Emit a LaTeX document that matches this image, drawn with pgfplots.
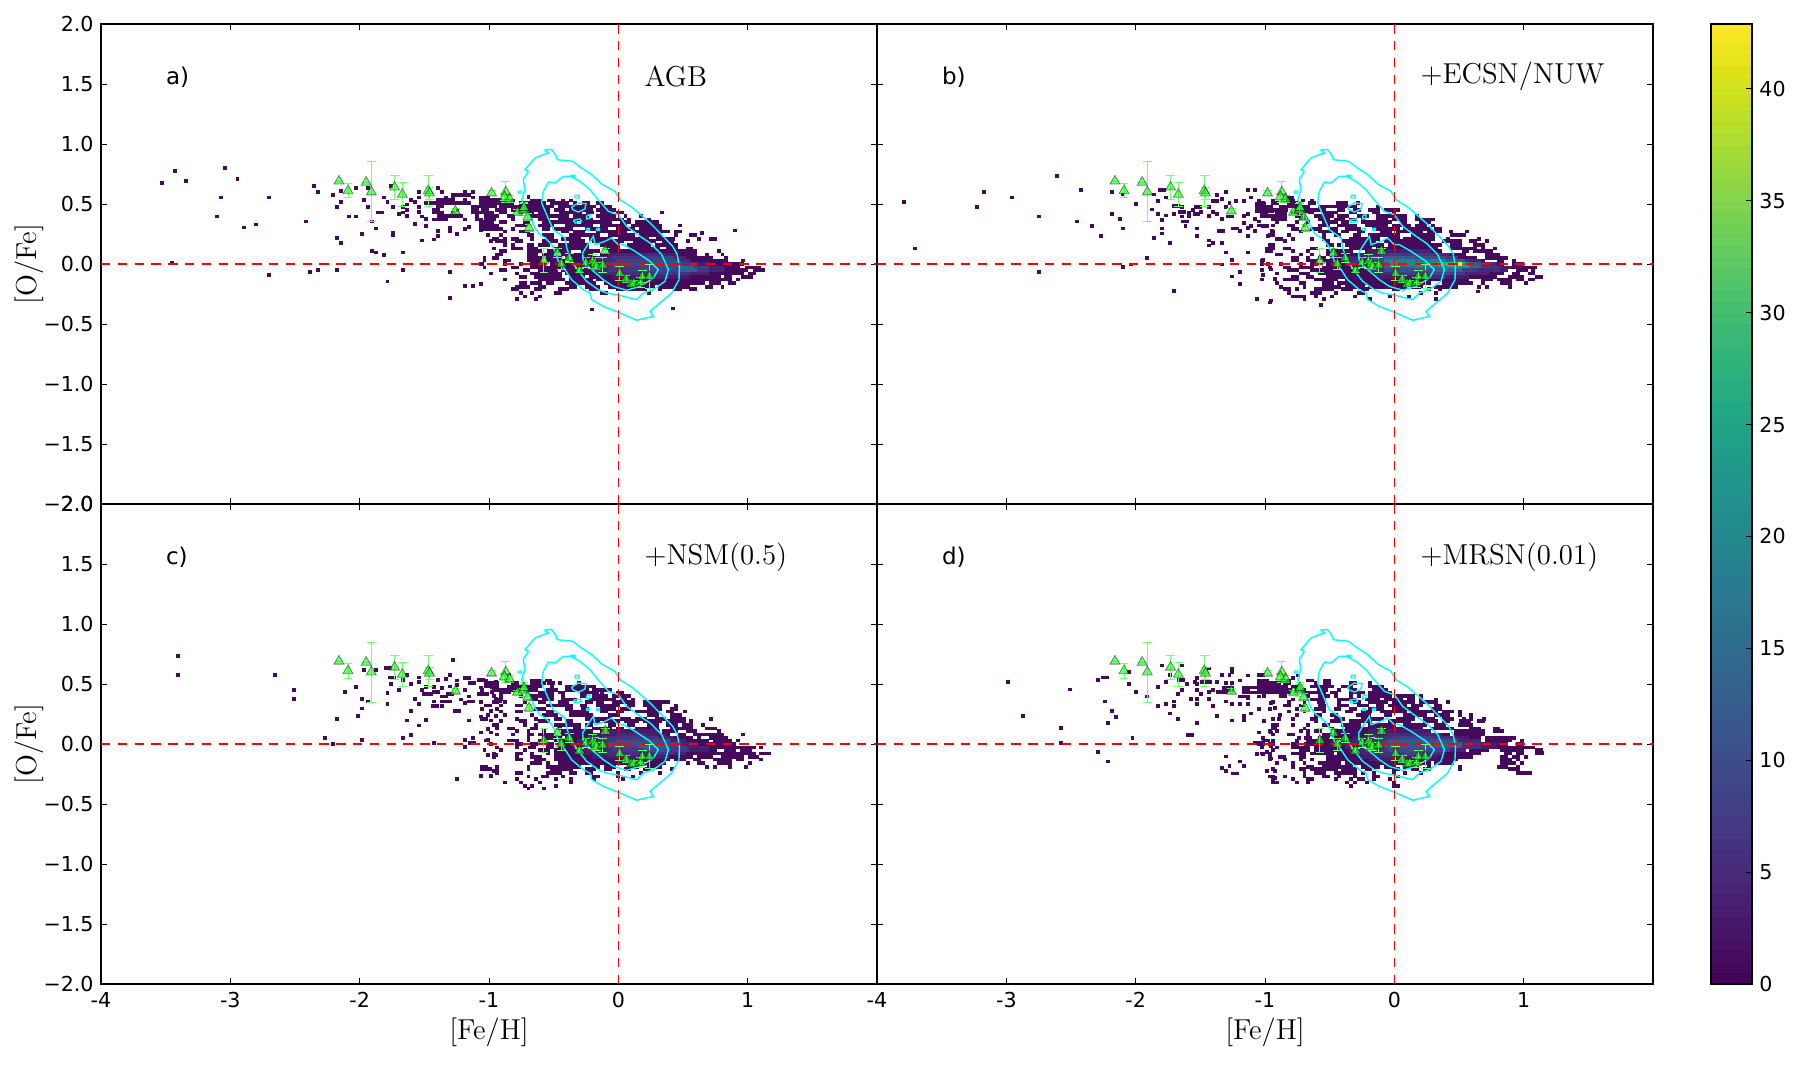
\documentclass[border=0pt]{standalone}
\usepackage[no-math]{fontspec}
\setmainfont{DejaVu Sans}
\usepackage{pgfplots}
\usepackage{pgfplotstable}
\pgfplotsset{compat=1.18}

% one histogram run: x = left edge of the first bin, w = number of bins
\pgfdeclareplotmark{run}{%
  \pgfpathrectangle{\pgfpoint{0pt}{-0.93pt}}{\pgfpoint{\runw*1.94pt+0.04pt}{1.86pt}}%
  \pgfusepathqfill}

\definecolor{obsfill}{RGB}{30,255,30}
\definecolor{obsbar}{RGB}{120,255,120}
\definecolor{contour}{RGB}{0,255,255}
\definecolor{refline}{RGB}{255,0,0}

% MW contours, the same in all panels
\pgfplotstableread{
x y
-.554 .953
-.515 .953
-.482 .903
-.472 .869
-.353 .856
-.296 .808
-.206 .744
-.121 .661
-.026 .606
.013 .536
.103 .475
.193 .392
.245 .342
.335 .244
.420 .147
.456 .078
.472 -.019
.469 -.131
.412 -.242
.322 -.325
.245 -.394
.271 -.436
.142 -.469
.013 -.408
-.116 -.353
-.206 -.297
-.219 -.242
-.271 -.214
-.361 -.131
-.412 -.047
-.464 .022
-.490 .106
-.515 .161
-.567 .217
-.606 .244
-.644 .300
-.670 .369
-.709 .453
-.747 .536
-.722 .619
-.735 .703
-.696 .772
-.722 .786
-.644 .883
-.580 .911
-.541 .925
-.567 .947
-.554 .953
nan nan
-.541 .683
-.490 .675
-.425 .731
-.374 .731
-.296 .689
-.219 .619
-.168 .550
-.077 .439
0 .411
.064 .314
.168 .231
.245 .175
.335 .078
.387 -.047
.361 -.144
.271 -.214
.193 -.242
.142 -.297
.090 -.283
-.013 -.256
-.090 -.242
-.155 -.214
-.245 -.144
-.296 -.075
-.361 .022
-.399 .133
-.412 .217
-.503 .286
-.554 .411
-.593 .508
-.580 .606
-.541 .683
nan nan
-.245 .147
-.193 .231
-.180 .161
-.103 .189
-.052 .217
0 .161
.039 .161
.129 .106
.245 .022
.309 -.047
.271 -.117
.168 -.186
.064 -.219
-.039 -.186
-.116 -.131
-.206 -.047
-.271 .022
-.276 .092
-.245 .147
nan nan
-.361 .475
-.309 .508
-.250 .503
-.258 .458
-.309 .433
-.353 .453
-.361 .475
nan nan
-.348 .364
-.296 .375
-.284 .353
-.335 .342
-.348 .364
nan nan
-.245 .403
-.219 .411
-.219 .383
-.245 .375
-.245 .403
nan nan
-.245 .297
-.224 .297
-.224 .281
-.245 .281
-.245 .297
nan nan
-.168 .297
-.147 .297
-.147 .281
-.168 .281
-.168 .297
nan nan
-.773 .608
-.747 .608
-.747 .592
-.773 .592
-.773 .608
nan nan
-.369 .739
-.335 .739
-.335 .728
-.369 .728
-.369 .739
nan nan
-.335 .572
-.302 .572
-.302 .55
-.335 .55
-.335 .572
}\contours

% observations
\pgfplotstableread{
x y e
-2.16 .69 0
-2.09 .61 .06
-1.95 .68 0
-1.91 .60 .25
-1.73 .64 .10
-1.67 .58 .10
-1.47 .61 .13
-1.46 .59 .05
-1.26 .44 .02
-.98 .59 .02
-.87 .60 .09
-.88 .56 .03
-.84 .54 .03
-.78 .43 .02
-.735 .45 .05
-.73 .47 .04
-.70 .39 .03
-.69 .30 .03
-.575 .03 .10
-.47 .09 .04
-.44 0 .05
-.38 .05 .04
-.30 -.055 .02
-.25 .01 .04
-.20 .02 .06
-.18 .005 .05
-.17 -.02 .03
-.12 -.01 .06
-.10 .11 .02
.01 -.08 .06
.06 -.125 .03
.10 -.165 .02
.12 -.16 .02
.17 -.155 .04
.185 -.105 .05
.24 -.105 .10
}\obs

% panel a, dark bins
\pgfplotstableread{
x y w
-3.54 .675 1
-3.44 .775 1
-3.36 .69 1
-3.06 .80 1
-2.96 .71 1
-3.09 .555 1
-3.12 .395 1
-2.91 .305 1
-2.82 .33 1
-2.72 .555 1
-3.47 .01 1
-2.72 -.09 1
-2.37 .65 1
-2.34 .60 1
-2.43 .355 1
-2.40 -.065 1
-2.34 -.05 1
-2.19 -.05 1
-2.22 .575 1
-2.16 .61 1
-2.16 .515 1
-2.19 .475 1
-2.10 .395 1
-2.04 .395 1
-2.04 .635 1
-1.95 .635 1
-1.98 .535 1
-1.95 .475 1
-1.92 .355 1
-1.89 .295 1
-2.0 .25 1
-2.19 .215 1
-2.16 .175 1
-1.92 .11 1
-1.89 .095 1
-1.83 .075 1
-1.68 .095 1
-1.68 -.05 1
-1.80 -.145 1
-1.32 -.065 1
-1.32 -.285 1
-1.2 -.185 1
-1.14 -.185 1
-1.08 -.165 1
-1.08 0 1
-1.05 .055 1
-1.87 .43 2
-1.76 .26 1
-1.76 .24 1
-1.83 .555 1
-1.80 .515 1
-1.77 .65 1
-1.76 .475 1
-1.71 .415 1
-1.68 .475 1
-1.65 .45 1
-1.68 .43 1
-1.65 .40 1
-1.65 .495 1
-1.62 .535 1
-1.59 .515 1
-1.56 .60 1
-1.56 .555 1
-1.56 .475 1
-1.56 .435 1
-1.59 .335 1
-1.53 .395 1
-1.50 .375 1
-1.50 .315 1
-1.53 .195 1
-1.44 .205 1
-1.41 .275 1
-1.41 .235 1
-1.41 .635 1
-1.38 .60 1
-1.35 .555 1
-1.32 .30 1
-1.32 .27 1
-1.26 .25 1
-1.17 .31 1
-1.08 .28 1
-1.14 .60 1
-1.20 .60 1
-1.29 .575 4
-1.17 .575 1
-1.29 .555 1
-1.14 .555 1
-1.08 .555 3
-1.41 .535 3
-1.32 .535 2
-1.2 .535 1
-1.08 .535 6
-1.5 .51 3
-1.41 .51 9
-1.08 .51 9
-.77 .51 7
-.53 .51 5
-.35 .51 1
-.28 .51 2
-.17 .51 2
-.71 .56 1
-.86 .53 2
-.68 .53 3
-.55 .53 2
-.44 .53 1
-.38 .53 1
-1.41 .48 2
-1.14 .48 3
-1.06 .48 4
-.92 .48 5
-.77 .48 9
-.47 .48 8
-.26 .48 3
-.14 .48 3
-1.44 .45 2
-1.26 .45 1
-1.14 .45 2
-1.06 .45 2
-.95 .45 3
-.83 .45 10
-.50 .45 3
-.38 .45 6
-.17 .45 4
-.05 .45 1
-1.44 .43 3
-1.29 .43 1
-1.14 .43 4
-1.02 .43 2
-.92 .43 2
-.77 .43 4
-.62 .43 3
-.46 .43 6
-.25 .43 2
-.14 .43 3
-.02 .43 2
.32 .43 1
-1.4 .40 5
-1.26 .40 2
-1.11 .40 1
-1.04 .40 4
-.86 .40 2
-.68 .40 3
-.59 .40 7
-.35 .40 4
-.17 .40 5
.04 .40 1
.16 .40 1
-1.44 .37 2
-1.38 .37 2
-1.2 .37 1
-1.11 .37 2
-1.04 .37 3
-.83 .37 1
-.62 .37 3
-.47 .37 7
-.26 .37 2
-.14 .37 6
.07 .37 1
.22 .37 1
-1.08 .35 4
-.92 .35 2
-.74 .35 2
-.59 .35 9
-.29 .35 8
.01 .35 3
.13 .35 6
-1.08 .32 5
-.95 .32 1
-.8 .32 3
-.62 .32 4
-.41 .32 7
-.14 .32 7
.10 .32 4
.22 .32 4
.46 .32 1
-1.2 .29 1
-1.08 .29 5
-.95 .29 2
-.83 .29 1
-.59 .29 2
-.5 .29 5
-.26 .29 6
-.02 .29 5
.16 .29 5
.31 .29 1
.89 .28 1
-.89 .27 1
-.77 .27 3
-.44 .27 2
-.35 .27 3
-.17 .27 8
.13 .27 9
.37 .27 1
.43 .27 2
.63 .26 1
-1.02 .24 1
-.92 .24 1
-.71 .24 2
-.59 .24 3
-.38 .24 8
-.08 .24 7
.16 .24 6
.43 .24 1
.55 .24 2
-.98 .21 2
-.89 .21 1
-.83 .21 2
-.68 .21 1
-.56 .21 2
-.44 .21 5
-.23 .21 6
0 .21 8
.29 .21 5
.61 .21 1
.7 .21 2
-1.0 .19 1
-.95 .19 3
-.8 .19 2
-.59 .19 4
-.38 .19 4
-.2 .19 8
.11 .19 6
.34 .19 3
.52 .19 1
-.89 .16 1
-.83 .16 1
-.71 .16 2
-.62 .16 3
-.47 .16 8
-.14 .16 5
.07 .16 6
.28 .16 6
-.98 .13 1
-.83 .13 3
-.71 .13 3
-.5 .13 9
-.11 .13 4
.08 .13 8
.37 .13 3
.52 .13 2
-.92 .11 2
-.71 .11 4
-.55 .11 6
-.29 .11 5
-.08 .11 14
.34 .11 8
.58 .11 1
.76 .11 1
-.95 .08 2
-.71 .08 3
-.59 .08 3
-.44 .08 8
-.14 .08 20
.40 .08 7
.67 .08 1
.79 .08 1
-1.05 .05 1
-.98 .05 2
-.71 .05 4
-.56 .05 4
-.41 .05 8
-.17 .05 24
.55 .05 6
.82 .05 1
-1.05 .03 1
-.89 .03 2
-.71 .03 4
-.56 .03 5
-.38 .03 30
.52 .03 8
.76 .03 3
.95 .03 1
-1.07 0 1
-.89 0 1
-.77 0 1
-.68 0 4
-.53 0 6
-.35 0 40
.85 0 4
-1.05 -.03 1
-.83 -.03 2
-.68 -.03 6
-.5 -.03 6
-.32 -.03 42
.98 -.03 4
-.92 -.05 2
-.74 -.05 2
-.62 -.05 5
-.44 -.05 4
-.32 -.05 44
1.04 -.05 3
-1.0 -.08 1
-.8 -.08 1
-.68 -.08 8
-.41 -.08 4
-.29 -.08 40
.91 -.08 2
1.0 -.08 2
-.77 -.11 2
-.65 -.11 7
-.38 -.11 4
-.23 -.11 34
.82 -.11 2
.95 -.11 3
-.89 -.13 1
-.62 -.13 7
-.38 -.13 6
-.17 -.13 32
.79 -.13 3
.91 -.13 1
-.77 -.16 2
-.68 -.16 3
-.56 -.16 2
-.41 -.16 8
-.11 -.16 26
.7 -.16 3
.85 -.16 2
-.8 -.19 4
-.62 -.19 2
-.38 -.19 2
-.26 -.19 4
-.08 -.19 12
.31 -.19 8
.67 -.19 2
.79 -.19 1
-.83 -.21 2
-.65 -.21 2
-.47 -.21 3
-.23 -.21 3
-.02 -.21 8
.31 -.21 1
.43 -.21 2
.55 -.21 2
-.77 -.24 1
-.68 -.24 1
-.5 -.24 2
-.14 -.24 2
.22 -.24 1
-.74 -.27 1
-.62 -.27 1
-.8 -.29 1
-.65 -.29 1
-.22 -.38 1
.41 -.37 1
}\darka

% panel a, brighter bins
\pgfplotstableread{
x y w c
-.08 .08 8 4
.16 .08 6 5
.34 .08 4 3
-.17 .05 4 4
-.05 .05 8 7
.19 .05 8 8
.43 .05 3 4
-.26 .03 4 4
-.14 .03 4 5
-.02 .03 10 8
.28 .03 6 9
.46 .03 3 5
-.35 0 5 3
-.20 0 5 6
-.05 0 10 9
.25 0 8 10
.49 0 4 7
.61 0 3 3
-.32 -.03 4 3
-.2 -.03 5 6
-.05 -.03 10 8
.25 -.03 7 10
.46 -.03 4 14
.58 -.03 4 8
.70 -.03 4 4
-.2 -.05 4 5
-.08 -.05 8 7
.16 -.05 10 9
.46 -.05 5 13
.61 -.05 3 7
.70 -.05 4 4
-.14 -.08 5 4
.01 -.08 8 6
.25 -.08 6 7
.43 -.08 4 6
.55 -.08 5 4
-.05 -.11 6 3
.13 -.11 8 4
.37 -.11 6 3
.05 -.13 6 2
}\corea

% panel b, dark bins
\pgfplotstableread{
x y w
-3.81 .515 1
-3.72 .13 1
-3.24 .475 1
-3.19 .60 1
-2.97 .555 1
-2.62 .735 1
-2.76 .395 1
-2.76 -.065 1
-2.44 .615 1
-2.47 .355 1
-2.35 .315 1
-2.28 .235 1
-2.2 .60 1
-2.2 .415 1
-2.14 .375 1
-2.11 .295 1
-2.11 .58 1
-2.11 -.025 1
-2.05 -.005 1
-2.01 .50 1
-1.93 .05 1
-1.87 .215 1
-1.89 .455 1
-1.87 .58 1
-1.83 .615 2
-1.84 .525 1
-1.84 .415 1
-1.81 .365 1
-1.81 .295 1
-1.81 .255 1
-1.78 .555 1
-1.78 .405 1
-1.75 .175 1
-1.72 -.225 1
-1.72 .485 2
-1.72 .415 1
-1.66 .475 1
-1.67 .435 2
-1.66 .395 1
-1.65 .355 2
-1.63 .315 1
-1.6 .425 1
-1.6 .395 1
-1.57 .45 1
-1.55 .475 2
-1.56 .415 2
-1.51 .435 1
-1.54 .295 1
-1.54 .235 1
-1.45 .475 1
-1.45 .40 1
-1.42 .435 1
-1.39 .415 1
-1.35 .375 1
-1.42 .525 2
-1.39 .575 1
-1.32 .60 1
-1.35 .54 1
-1.29 .51 1
-1.32 .475 1
-1.3 .395 2
-1.37 .275 2
-1.26 .295 2
-1.21 .275 1
-1.45 .195 1
-1.45 .155 1
-1.42 .175 1
-1.35 .175 1
-1.32 .095 1
-1.27 .035 1
-1.35 -.005 1
-1.21 -.065 1
-1.27 -.105 1
-1.21 -.165 1
-1.08 -.29 1
-.97 -.305 1
-1.15 .095 1
-1.03 .035 1
-.99 0 1
-1.03 -.09 1
-.94 -.125 1
-.97 -.045 1
-1.24 .525 1
-1.18 .525 1
-1.15 .615 1
-1.09 .615 1
-1.12 .555 1
-1.06 .53 1
-1.18 .40 1
-1.18 .34 1
-1.15 .415 1
-1.15 .30 1
-1.15 .235 1
-1.09 .275 1
-1.12 .315 1
-1.09 .375 1
-1.06 .355 1
-1.03 .315 2
-.99 .235 1
-.96 .275 1
-.99 .13 2
-1.08 .50 3
-1.08 .47 2
-1.08 .44 5
-.84 .55 2
-.95 .53 1
-.86 .53 3
-.72 .53 1
-.65 .53 1
-1.06 .51 2
-.95 .51 2
-.83 .51 3
-.67 .51 2
-.45 .51 3
-.3 .51 1
-1.06 .48 4
-.89 .48 5
-.74 .48 3
-.59 .48 6
-.44 .48 5
-.14 .48 1
-1.06 .45 8
-.77 .45 3
-.68 .45 5
-.44 .45 2
-.32 .45 2
-.2 .45 3
-.08 .45 4
-1.04 .43 2
-.92 .43 3
-.8 .43 3
-.71 .43 3
-.56 .43 4
-.35 .43 2
-.17 .43 2
-.02 .43 1
-1.04 .40 7
-.77 .40 3
-.62 .40 5
-.44 .40 3
-.29 .40 3
-.14 .40 6
.04 .40 2
.16 .40 1
-.95 .37 4
-.74 .37 2
-.59 .37 3
-.47 .37 3
-.35 .37 2
-.26 .37 1
-.14 .37 3
-.02 .37 4
.16 .37 3
.25 .37 1
.28 .37 1
-.92 .35 1
-.77 .35 1
-.68 .35 1
-.56 .35 4
-.41 .35 2
-.26 .35 8
.04 .35 2
.19 .35 3
-1.06 .32 1
-.95 .32 1
-.83 .32 2
-.71 .32 1
-.59 .32 3
-.44 .32 5
-.23 .32 6
-.02 .32 5
.16 .32 3
.28 .32 1
-.8 .29 2
-.65 .29 3
-.5 .29 2
-.38 .29 4
-.17 .29 7
.07 .29 2
.13 .29 5
.31 .29 2
-.95 .27 1
-.74 .27 1
-.59 .27 5
-.41 .27 2
-.29 .27 2
-.11 .27 3
.01 .27 7
.25 .27 4
.42 .27 1
.55 .27 1
-.98 .24 2
-.83 .24 1
-.56 .24 1
-.47 .24 2
-.32 .24 2
-.2 .24 8
.13 .24 6
.43 .24 3
.52 .24 1
-.92 .21 2
-.8 .21 1
-.65 .21 1
-.56 .21 1
-.35 .21 8
-.05 .21 3
.07 .21 8
.4 .21 1
.64 .21 1
-.86 .19 1
-.53 .19 1
-.41 .19 9
-.08 .19 12
.37 .19 5
.58 .19 2
.7 .19 1
-.98 .16 2
-.53 .16 2
-.44 .16 1
-.38 .16 10
-.05 .16 14
.43 .16 3
.61 .16 3
-1.0 .13 1
-.95 .13 1
-.86 .13 2
-.65 .13 2
-.35 .13 6
-.14 .13 16
.43 .13 7
.67 .13 1
.76 .13 1
-1.0 .11 2
-.8 .11 1
-.68 .11 1
-.53 .11 7
-.23 .11 20
.52 .11 2
.61 .11 5
-.92 .08 2
-.74 .08 1
-.65 .08 1
-.53 .08 1
-.47 .08 4
-.35 .08 30
.70 .08 4
-.8 .05 2
-.68 .05 1
-.59 .05 2
-.5 .05 4
-.38 .05 34
.7 .05 6
-1.04 .03 1
-.8 .03 2
-.68 .03 3
-.56 .03 4
-.44 .03 38
.79 .03 2
.91 .03 1
-1.04 0 1
-.89 0 1
-.74 0 1
-.65 0 2
-.53 0 4
-.41 0 42
.91 0 3
-.98 -.03 1
-.86 -.03 2
-.74 -.03 4
-.56 -.03 3
-.47 -.03 50
1.01 -.03 3
-1.04 -.05 1
-.83 -.05 3
-.65 -.05 4
-.53 -.05 46
.94 -.05 3
1.06 -.05 1
-.92 -.08 1
-.74 -.08 3
-.59 -.08 48
.91 -.08 2
1.03 -.08 2
-.8 -.11 2
-.68 -.11 2
-.53 -.11 44
.88 -.11 4
1.09 -.11 2
-1.04 -.13 1
-.86 -.13 4
-.62 -.13 6
-.38 -.13 32
.67 -.13 3
.79 -.13 4
.94 -.13 2
1.03 -.13 2
-.92 -.16 1
-.74 -.16 2
-.56 -.16 3
-.44 -.16 24
.37 -.16 8
.67 -.16 1
.82 -.16 3
1.0 -.16 1
-.89 -.19 1
-.71 -.19 1
-.56 -.19 5
-.38 -.19 5
-.2 -.19 5
-.08 -.19 6
.13 -.19 3
.31 -.19 6
.64 -.19 1
.7 -.19 1
.88 -.19 1
-.86 -.21 2
-.77 -.21 1
-.62 -.21 5
-.41 -.21 3
-.26 -.21 2
-.02 -.21 2
.25 -.21 1
.34 -.21 1
.63 -.23 1
-.83 -.24 1
-.65 -.24 3
-.47 -.24 1
-.29 -.24 2
.19 -.24 1
.31 -.24 1
-.8 -.27 4
-.62 -.27 1
-.5 -.27 1
-.32 -.27 1
-.05 -.27 1
.1 -.27 1
-.71 -.29 1
-.56 -.29 1
-.2 -.29 1
.31 -.29 1
-.98 -.32 1
-.58 -.34 1
}\darkb

% panel b, brighter bins
\pgfplotstableread{
x y w c
-.2 .11 8 3
.04 .11 8 4
-.29 .08 6 4
-.11 .08 6 7
.07 .08 8 7
.31 .08 4 5
-.38 .05 5 4
-.23 .05 5 8
-.08 .05 8 12
.16 .05 8 10
.40 .05 3 7
-.38 .03 6 5
-.2 .03 4 10
-.08 .03 8 18
.16 .03 4 15
.28 .03 4 18
.40 .03 5 12
.55 .03 4 4
-.38 0 6 5
-.2 0 5 12
-.05 0 8 20
.19 0 5 22
.34 0 4 28
.46 0 4 25
.58 0 3 12
.67 0 4 5
-.32 -.03 4 5
-.2 -.03 5 8
-.08 -.03 8 14
.16 -.03 8 18
.40 -.03 6 22
.58 -.03 3 15
.67 -.03 5 7
.82 -.03 3 3
-.2 -.05 4 6
-.08 -.05 8 10
.16 -.05 6 12
.34 -.05 6 14
.52 -.05 4 8
.64 -.05 6 5
.82 -.05 2 3
-.14 -.08 5 5
.01 -.08 8 8
.25 -.08 6 9
.43 -.08 4 7
.55 -.08 6 4
-.14 -.11 4 3
-.02 -.11 8 4
.22 -.11 6 5
.40 -.11 6 3
.49 0 1 42
}\coreb

% panel c, dark bins
\pgfplotstableread{
x y w
-3.42 .735 1
-3.42 .575 1
-2.67 .575 1
-2.52 .45 1
-2.52 .375 1
-2.19 .21 1
-2.28 .05 1
-2.22 0 1
-2.13 .435 1
-2.04 .475 1
-2.0 .375 1
-2.0 .295 1
-2.03 .235 1
-2.0 .035 1
-1.98 .615 1
-1.95 .355 1
-1.89 .615 1
-1.81 .635 2
-1.8 .425 1
-1.8 .335 1
-1.78 .555 2
-1.77 .50 1
-1.71 .45 1
-1.68 .535 1
-1.65 .575 1
-1.62 .50 1
-1.59 .375 1
-1.56 .335 1
-1.62 .275 1
-1.65 .195 1
-1.56 .155 1
-1.68 .05 1
-1.62 .075 1
-1.5 .2 1
-1.44 .01 1
-1.56 .555 1
-1.56 .515 1
-1.53 .45 1
-1.5 .475 1
-1.52 .415 3
-1.44 .435 2
-1.44 .475 1
-1.41 .535 1
-1.44 .355 1
-1.45 .315 2
-1.38 .315 1
-1.38 .395 2
-1.38 .465 1
-1.38 .355 3
-1.35 .54 1
-1.32 .575 1
-1.29 .70 1
-1.32 .48 1
-1.33 .415 2
-1.28 .275 2
-1.26 .53 1
-1.26 .49 1
-1.23 .37 1
-1.2 .34 1
-1.17 .355 2
-1.17 .195 1
-1.2 .55 2
-1.2 .45 1
-1.17 .395 1
-1.16 .51 2
-1.09 .535 2
-1.08 .23 1
-1.08 .095 1
-1.2 .035 1
-1.14 .05 1
-1.16 .01 2
-1.2 -.025 1
-1.26 -.29 1
-1.08 -.265 1
-1.05 -.2 1
-1.02 -.09 1
-1.02 .035 1
-1.02 .125 1
-1.0 .095 1
-1 0 1
-1 .275 1
-1 .195 1
-.98 -.225 2
-1 -.265 1
-.96 .235 1
-.96 -.09 1
-1.08 .35 1
-1.09 .415 3
-1.08 .47 1
-1.02 .51 1
-.96 .52 1
-.99 .475 1
-.99 .435 1
-.96 .38 1
-.93 .355 1
-.86 .58 1
-1.04 .53 1
-.88 .53 1
-.68 .53 3
-.57 .53 2
-1.04 .51 4
-.83 .51 2
-.68 .51 4
-.55 .51 2
-.47 .51 1
-.32 .51 1
-1.04 .48 3
-.95 .48 1
-.86 .48 6
-.68 .48 3
-.53 .48 1
-.41 .48 7
-.26 .48 3
-1.07 .45 1
-.98 .45 7
-.8 .45 1
-.71 .45 3
-.56 .45 3
-.41 .45 6
-.2 .45 5
-1.07 .43 1
-.92 .43 3
-.74 .43 1
-.62 .43 4
-.47 .43 2
-.3 .43 5
-.14 .43 1
-.02 .43 2
-.98 .40 1
-.92 .40 1
-.77 .40 1
-.68 .40 6
-.44 .40 1
-.3 .40 2
-.2 .40 4
-.05 .40 5
-.95 .37 2
-.68 .37 2
-.59 .37 3
-.44 .37 4
-.23 .37 7
.01 .37 2
.1 .37 1
-.98 .35 2
-.89 .35 1
-.74 .35 1
-.62 .35 2
-.47 .35 3
-.26 .35 2
-.17 .35 2
-.05 .35 6
.19 .35 5
.34 .35 2
-1.04 .32 2
-.92 .32 1
-.8 .32 2
-.56 .32 4
-.44 .32 3
-.3 .32 2
-.17 .32 6
.07 .32 2
.19 .32 5
.43 .32 1
-1.07 .29 1
-.95 .29 1
-.65 .29 3
-.41 .29 2
-.29 .29 2
-.14 .29 4
.01 .29 3
.22 .29 4
.4 .29 2
-.92 .27 1
-.8 .27 2
-.56 .27 2
-.38 .27 5
-.14 .27 2
-.02 .27 2
.13 .27 6
.37 .27 2
.5 .27 1
-1.02 .24 1
-.89 .24 1
-.68 .24 1
-.59 .24 4
-.38 .24 6
-.08 .24 3
.22 .24 3
.4 .24 3
-1.07 .21 2
-.8 .21 1
-.65 .21 1
-.5 .21 2
-.26 .21 7
.01 .21 3
.13 .21 3
.28 .21 3
.4 .21 4
.7 .21 1
-.92 .19 1
-.77 .19 2
-.62 .19 3
-.41 .19 2
-.23 .19 3
-.11 .19 4
.04 .19 4
.19 .19 5
.37 .19 5
.55 .19 1
-.98 .16 2
-.74 .16 1
-.65 .16 1
-.5 .16 4
-.38 .16 3
-.26 .16 2
-.08 .16 2
.07 .16 2
.22 .16 3
.37 .16 3
.49 .16 3
.64 .16 1
-.95 .13 1
-.86 .13 2
-.68 .13 2
-.47 .13 1
-.35 .13 2
-.2 .13 5
-.02 .13 2
.13 .13 6
.4 .13 6
.67 .13 3
-.8 .11 1
-.71 .11 1
-.59 .11 1
-.44 .11 6
-.26 .11 2
-.14 .11 12
.34 .11 4
.52 .11 3
.76 .11 1
-.95 .08 1
-.83 .08 1
-.71 .08 2
-.62 .08 4
-.44 .08 8
-.2 .08 20
.46 .08 2
.58 .08 4
.7 .08 4
.95 .08 1
-.71 .05 1
-.59 .05 5
-.41 .05 6
-.26 .05 28
.61 .05 1
.7 .05 5
-1.04 .03 1
-.86 .03 3
-.71 .03 1
-.62 .03 2
-.5 .03 7
-.26 .03 32
.73 .03 5
.91 .03 1
-1.0 0 1
-.8 0 2
-.68 0 2
-.56 0 2
-.47 0 40
.7 0 7
-.95 -.03 1
-.8 -.03 1
-.7 -.03 2
-.56 -.03 2
-.47 -.03 50
.97 -.03 3
1.09 -.03 1
-1.05 -.05 1
-.92 -.05 1
-.74 -.05 1
-.62 -.05 3
-.5 -.05 42
.82 -.05 3
.94 -.05 3
-.98 -.08 1
-.8 -.08 2
-.68 -.08 1
-.56 -.08 1
-.5 -.08 52
1.09 -.08 3
-.98 -.11 1
-.8 -.11 1
-.68 -.11 3
-.5 -.11 36
.61 -.11 4
.79 -.11 6
1.0 -.11 3
-.8 -.13 2
-.65 -.13 3
-.5 -.13 30
.43 -.13 3
.58 -.13 2
.73 -.13 5
.91 -.13 2
1.09 -.13 1
-.68 -.16 3
-.56 -.16 1
-.47 -.16 26
.28 -.16 3
.52 -.16 1
.61 -.16 2
.76 -.16 4
1.0 -.16 1
-1.07 -.19 2
-.95 -.19 1
-.71 -.19 1
-.56 -.19 6
-.38 -.19 3
-.2 -.19 2
-.11 -.19 3
.07 -.19 3
.22 -.19 4
.67 -.19 1
.73 -.19 1
.85 -.19 1
.97 -.19 1
-1.07 -.21 3
-.71 -.21 1
-.53 -.21 3
-.44 -.21 3
-.26 -.21 3
-.11 -.21 2
.04 -.21 2
.19 -.21 2
.4 -.21 1
-.95 -.24 1
-.8 -.24 2
-.56 -.24 4
-.38 -.24 2
-.26 -.24 2
-.02 -.24 1
.16 -.24 1
.31 -.24 1
-.71 -.27 1
-.6 -.27 2
-.44 -.27 1
-.2 -.27 2
-.02 -.27 1
.1 -.27 1
-.8 -.29 1
-.65 -.29 1
-.5 -.29 1
-.38 -.29 1
-.2 -.29 1
.02 -.29 1
-.89 -.32 1
-.77 -.32 1
-.62 -.32 1
-.38 -.32 1
-.74 -.35 1
-.68 -.35 1
-.5 -.35 1
-.71 -.37 1
-.59 -.37 1
}\darkc

% panel c, brighter bins
\pgfplotstableread{
x y w c
-.1 .11 8 3
.14 .11 6 3
-.2 .08 6 3
-.02 .08 8 5
.22 .08 5 3
-.26 .05 5 4
-.11 .05 6 6
.07 .05 8 7
.31 .05 4 4
-.32 .03 5 4
-.17 .03 5 7
-.02 .03 8 9
.22 .03 6 9
.40 .03 4 4
-.38 0 5 3
-.23 0 5 6
-.08 0 8 10
.16 0 6 11
.34 0 4 9
.46 0 5 4
-.35 -.03 4 4
-.23 -.03 5 6
-.08 -.03 8 9
.16 -.03 8 13
.40 -.03 4 8
.52 -.03 6 4
-.32 -.05 4 4
-.2 -.05 5 5
-.05 -.05 8 7
.19 -.05 7 10
.4 -.05 5 7
.55 -.05 5 3
-.29 -.08 5 3
-.14 -.08 4 5
-.02 -.08 8 6
.22 -.08 7 6
.43 -.08 3 4
-.2 -.11 5 3
-.05 -.11 8 4
.19 -.11 7 3
-.14 -.13 6 2
.04 -.13 8 3
}\corec

% panel d, dark bins
\pgfplotstableread{
x y w
-3.0 .515 1
-2.89 .235 1
-2.52 .455 1
-2.59 .135 1
-2.59 .01 1
-2.31 .535 1
-2.27 .555 2
-2.31 -.065 1
-2.23 -.145 1
-2.25 .355 1
-2.2 .275 1
-2.17 .225 1
-2.23 .175 1
-2.07 .6 1
-2.07 .5 1
-2.01 .435 1
-1.93 .395 1
-2.04 .05 1
-1.84 .475 1
-1.84 .315 1
-1.81 .655 1
-1.78 .515 1
-1.78 .335 1
-1.75 .575 1
-1.72 .355 1
-1.72 .315 1
-1.75 .255 1
-1.69 .415 1
-1.69 .21 1
-1.66 .655 1
-1.68 .535 2
-1.66 .45 1
-1.62 .5 1
-1.59 .375 1
-1.61 .075 2
-1.56 .515 1
-1.54 .55 1
-1.54 .5 1
-1.54 .45 1
-1.51 .415 1
-1.54 .375 1
-1.54 .335 1
-1.54 .175 1
-1.45 .63 1
-1.5 .515 3
-1.45 .435 1
-1.42 .45 1
-1.45 .375 1
-1.42 .315 1
-1.39 .515 1
-1.39 .235 1
-1.35 .575 1
-1.38 .435 3
-1.32 .51 1
-1.33 .465 3
-1.33 .445 3
-1.32 .355 1
-1.29 .575 1
-1.27 .63 1
-1.27 .6 1
-1.27 .51 1
-1.27 .335 1
-1.27 .195 1
-1.21 .53 1
-1.21 .335 1
-1.18 .235 1
-1.18 .2 1
-1.12 .255 1
-1.15 .57 1
-1.15 .335 1
-1.15 .385 1
-1.21 .395 3
-1.18 .47 9
-1.18 .43 9
-1.18 .45 2
-1.06 .575 2
-1.06 .395 1
-1.06 .095 1
-1.09 .01 3
-1.03 .05 1
-.97 .095 1
-.94 .135 1
-.97 .34 1
-.94 .30 1
-.91 .21 1
-1.32 -.105 1
-1.35 -.2 1
-1.29 -.185 1
-1.32 -.225 1
-1.26 -.245 2
-1.21 -.145 1
-1.18 -.185 1
-1.08 -.085 1
-1.03 -.085 1
-1 -.065 1
-.97 -.12 1
-.97 -.02 1
-1 -.225 1
-.94 -.225 1
-.94 -.285 1
-.76 .57 1
-.8 .55 1
-1.06 .53 3
-.86 .53 2
-.68 .53 2
-.55 .53 2
-1.06 .51 6
-.86 .51 2
-.62 .51 1
-.55 .51 2
-.35 .51 2
-.2 .51 1
-1.06 .48 8
-.8 .48 2
-.65 .48 6
-.41 .48 3
-.2 .48 4
-1.06 .45 9
-.77 .45 3
-.6 .45 3
-.44 .45 1
-.35 .45 2
-.17 .45 4
-.98 .43 6
-.71 .43 6
-.5 .43 2
-.35 .43 4
-.2 .43 6
-1.02 .40 1
-.89 .40 2
-.68 .40 1
-.59 .40 3
-.47 .40 1
-.35 .40 1
-.29 .40 1
-.2 .40 6
.01 .40 5
.19 .40 1
-.8 .37 1
-.65 .37 4
-.44 .37 5
-.23 .37 4
-.08 .37 5
.1 .37 2
.19 .37 1
.31 .37 1
-.95 .35 1
-.83 .35 1
-.71 .35 1
-.6 .35 2
-.44 .35 1
-.32 .35 2
-.2 .35 5
-.02 .35 6
.19 .35 3
.28 .35 2
.4 .35 1
-.86 .32 2
-.74 .32 2
-.59 .32 2
-.44 .32 3
-.29 .32 3
-.14 .32 2
-.05 .32 5
.13 .32 3
.31 .32 2
-1.06 .29 1
-.98 .29 1
-.77 .29 1
-.62 .29 3
-.47 .29 2
-.35 .29 2
-.2 .29 4
-.02 .29 3
.07 .29 4
.28 .29 3
-.83 .27 1
-.71 .27 1
-.56 .27 1
-.38 .27 2
-.26 .27 3
-.11 .27 7
.13 .27 7
.37 .27 3
.49 .27 1
-.9 .24 1
-.77 .24 1
-.62 .24 2
-.5 .24 2
-.3 .24 4
-.08 .24 2
.07 .24 6
.31 .24 4
.49 .24 1
.58 .24 1
-.95 .21 1
-.8 .21 1
-.65 .21 2
-.47 .21 3
-.26 .21 6
.01 .21 5
.22 .21 3
.37 .21 3
.52 .21 1
.58 .21 1
.68 .21 1
-1.02 .19 1
-.62 .19 1
-.5 .19 3
-.35 .19 6
-.05 .19 6
.22 .19 4
.37 .19 2
.5 .19 3
.64 .19 2
-.95 .16 2
-.8 .16 1
-.68 .16 1
-.56 .16 2
-.41 .16 5
-.2 .16 7
.07 .16 6
.31 .16 3
.49 .16 4
-.95 .13 1
-.71 .13 1
-.5 .13 1
-.38 .13 20
.28 .13 6
.58 .13 3
.76 .13 2
-.98 .11 1
-.92 .11 1
-.74 .11 1
-.68 .11 1
-.62 .11 2
-.47 .11 24
.46 .11 6
.64 .11 2
.76 .11 3
-.95 .08 1
-.83 .08 2
-.68 .08 1
-.56 .08 4
-.44 .08 8
-.17 .08 20
.46 .08 8
-.75 .05 1
-.7 .05 2
-.59 .05 3
-.47 .05 38
.7 .05 8
.91 .05 1
-1.02 .03 2
-.95 .03 1
-.77 .03 1
-.68 .03 8
-.41 .03 36
.7 .03 7
.97 .03 1
-1.06 0 2
-.98 0 2
-.8 0 2
-.7 0 10
-.38 0 42
.94 0 2
-1.04 -.03 1
-.92 -.03 1
-.8 -.03 5
-.62 -.03 8
-.35 -.03 44
.97 -.03 4
-.95 -.05 1
-.74 -.05 3
-.62 -.05 10
-.32 -.05 22
.34 -.05 6
.58 -.05 5
.82 -.05 2
.88 -.05 4
1.09 -.05 2
-1.04 -.08 1
-.98 -.08 1
-.8 -.08 4
-.65 -.08 6
-.44 -.08 22
.22 -.08 12
.58 -.08 3
.85 -.08 2
.94 -.08 2
1.09 -.08 2
-.98 -.11 1
-.9 -.11 2
-.74 -.11 2
-.53 -.11 6
-.35 -.11 18
.19 -.11 12
.55 -.11 2
.82 -.11 2
.91 -.11 2
1.0 -.11 1
-.98 -.13 1
-.86 -.13 1
-.74 -.13 1
-.65 -.13 1
-.53 -.13 4
-.41 -.13 22
.25 -.13 8
.82 -.13 3
.94 -.13 1
-.92 -.16 1
-.8 -.16 1
-.71 -.16 1
-.59 -.16 6
-.38 -.16 20
.19 -.16 3
.31 -.16 5
.82 -.16 4
.97 -.16 1
-.8 -.19 1
-.68 -.19 2
-.56 -.19 8
-.26 -.19 5
-.08 -.19 3
.07 -.19 4
.25 -.19 1
.49 -.19 1
.79 -.19 3
.94 -.19 1
-.95 -.21 1
-.74 -.21 2
-.65 -.21 7
-.41 -.21 4
-.23 -.21 2
-.02 -.21 2
.13 -.21 2
.22 -.21 2
.49 -.21 1
.88 -.21 3
-.71 -.24 1
-.62 -.24 3
-.47 -.24 6
-.26 -.24 1
-.17 -.24 1
-.02 -.24 1
.07 -.24 1
.19 -.24 1
.94 -.24 4
-.98 -.27 2
-.86 -.27 1
-.71 -.27 1
-.56 -.27 2
-.44 -.27 1
-.32 -.27 1
-.17 -.27 2
.01 -.27 1
-.95 -.29 1
-.8 -.29 1
-.68 -.29 2
-.47 -.29 1
-.35 -.29 1
-.29 -.29 2
-.17 -.29 1
-.05 -.29 1
-.95 -.32 2
-.77 -.32 1
-.68 -.32 1
-.38 -.32 1
-.32 -.32 1
-.23 -.32 1
-.02 -.32 1
-.35 -.35 1
-.02 -.35 2
1.1 -.075 2
}\darkd

% panel d, brighter bins
\pgfplotstableread{
x y w c
-.17 .13 8 2
-.2 .11 8 3
.04 .11 8 3
-.23 .08 6 4
-.05 .08 8 5
.19 .08 6 4
-.32 .05 5 3
-.17 .05 5 6
-.02 .05 10 8
.28 .05 6 6
.46 .05 4 3
-.35 .03 4 4
-.23 .03 6 7
-.05 .03 10 11
.25 .03 8 10
.49 .03 6 4
-.41 0 6 4
-.23 0 5 8
-.08 0 10 12
.22 0 10 13
.52 0 5 6
.67 0 4 3
-.38 -.03 5 4
-.23 -.03 5 8
-.08 -.03 10 11
.22 -.03 10 12
.52 -.03 5 6
.67 -.03 4 3
-.35 -.05 4 4
-.23 -.05 6 7
-.05 -.05 8 10
.19 -.05 8 9
.43 -.05 4 4
-.29 -.08 5 4
-.14 -.08 6 6
.04 -.08 6 8
.22 -.08 6 5
-.26 -.11 4 3
-.14 -.11 6 5
.04 -.11 6 5
.22 -.11 4 3
-.2 -.13 6 3
-.02 -.13 6 4
.16 -.13 6 2
-.14 -.16 6 2
.04 -.16 5 2
}\cored

\pgfplotsset{
  panel/.style={
    scale only axis, width=388pt, height=240pt,
    xmin=-4, xmax=2, ymin=-2, ymax=2,
    clip mode=individual,
    xtick={-4,-3,-2,-1,0,1,2}, ytick={-2,-1.5,-1,-0.5,0,0.5,1,1.5,2},
    xticklabels={}, yticklabels={},
    tick align=inside, major tick length=3pt,
    tick style={black,line width=.4pt},
    axis line style={line width=.7pt},
    tick label style={font=\fontsize{10.3}{12}\selectfont},
    colormap/viridis, point meta min=0, point meta max=42.9,
    yticklabel style={inner sep=0pt,xshift=-3.5pt},
    xticklabel style={inner sep=0pt,yshift=-4pt},
    xlabel style={font=\fontsize{15.5}{18}\selectfont},
    ylabel style={font=\fontsize{15.5}{18}\selectfont},
  },
  left/.style={yticklabels={−2.0,−1.5,−1.0,−0.5,0.0,0.5,1.0,1.5,2.0},
    ylabel={$\mathrm{[O/Fe]}$}, ylabel style={at={(axis description cs:-.093,.5)},anchor=center}},
  low/.style={xticklabels={-4,-3,-2,-1,0,1,{}},
    xlabel={$\mathrm{[Fe/H]}$}, xlabel style={at={(axis description cs:.5,-.1)},anchor=center}},
  hist/.style={scatter, only marks, mark=run, forget plot,
    visualization depends on={\thisrow{w} \as \runw}},
}

% everything that all four panels share, drawn over the histogram
\newcommand{\overlays}[2]{%
  \addplot[contour,line width=.7pt,unbounded coords=jump] table {\contours};
  \addplot[refline,line width=.8pt,dash pattern=on 4.7pt off 3.7pt] coordinates {(-4,0)(2,0)};
  \addplot[refline,line width=.8pt,dash pattern=on 4.7pt off 3.7pt] coordinates {(0,-2)(0,2)};
  \addplot[only marks,mark=triangle*,mark size=2.9pt,
    mark options={fill=obsfill,fill opacity=.65,draw=black,draw opacity=.45,line width=.4pt},
    error bars/.cd,y dir=both,y explicit,
    error bar style={obsbar,line width=.5pt},
    error mark options={rotate=90,mark size=2.2pt,obsbar,line width=.5pt}]
    table[x=x,y=y,y error=e] {\obs};
  \node[anchor=west,inner sep=0pt,font=\fontsize{11.5}{14}\selectfont] at (axis cs:-3.5,1.56) {#1};
  \node[anchor=west,inner sep=0pt,font=\fontsize{13.5}{16}\selectfont] at (axis cs:.2,1.56) {#2};
}

\begin{document}
\begin{tikzpicture}
\path[use as bounding box] (0,0) rectangle (898.5pt,541pt);

\begin{axis}[panel,left,at={(50.5pt,289pt)},anchor=south west]
  \addplot[hist,point meta=1] table[x=x,y=y] {\darka};
  \addplot[hist,point meta=explicit] table[x=x,y=y,meta=c] {\corea};
  \overlays{a)}{$\mathrm{AGB}$}
\end{axis}

\begin{axis}[panel,at={(438.5pt,289pt)},anchor=south west]
  \addplot[hist,point meta=1] table[x=x,y=y] {\darkb};
  \addplot[hist,point meta=explicit] table[x=x,y=y,meta=c] {\coreb};
  \overlays{b)}{$\mathrm{+ECSN/NUW}$}
\end{axis}

\begin{axis}[panel,left,low,at={(50.5pt,49pt)},anchor=south west]
  \addplot[hist,point meta=1] table[x=x,y=y] {\darkc};
  \addplot[hist,point meta=explicit] table[x=x,y=y,meta=c] {\corec};
  \overlays{c)}{$\mathrm{+NSM(0.5)}$}
\end{axis}

\begin{axis}[panel,low,at={(438.5pt,49pt)},anchor=south west]
  \addplot[hist,point meta=1] table[x=x,y=y] {\darkd};
  \addplot[hist,point meta=explicit] table[x=x,y=y,meta=c] {\cored};
  \overlays{d)}{$\mathrm{+MRSN(0.01)}$}
\end{axis}

% colour scale, as an axis of its own
\begin{axis}[scale only axis, width=20.5pt, height=480pt,
    at={(855.5pt,49pt)}, anchor=south west,
    xmin=0, xmax=1, ymin=0, ymax=42.9,
    xtick=\empty, ytick={0,5,10,15,20,25,30,35,40},
    yticklabels={0,5,10,15,20,25,30,35,40},
    ytick pos=right, yticklabel pos=right, tick align=inside,
    major tick length=3pt, tick style={black,line width=.4pt},
    axis line style={line width=.7pt}, axis on top,
    tick label style={font=\fontsize{10.3}{12}\selectfont},
    yticklabel style={inner sep=0pt,xshift=3.5pt},
    colormap/viridis, point meta min=0, point meta max=42.9]
  \addplot[mesh, point meta=y, line width=20.6pt, line cap=butt] coordinates {
    (.5,0)(.5,.5)(.5,1)(.5,1.5)(.5,2)(.5,2.5)(.5,3)(.5,3.5)(.5,4)(.5,4.5)(.5,5)
    (.5,5.5)(.5,6)(.5,6.5)(.5,7)(.5,7.5)(.5,8)(.5,8.5)(.5,9)(.5,9.5)(.5,10)
    (.5,10.5)(.5,11)(.5,11.5)(.5,12)(.5,12.5)(.5,13)(.5,13.5)(.5,14)(.5,14.5)(.5,15)
    (.5,15.5)(.5,16)(.5,16.5)(.5,17)(.5,17.5)(.5,18)(.5,18.5)(.5,19)(.5,19.5)(.5,20)
    (.5,20.5)(.5,21)(.5,21.5)(.5,22)(.5,22.5)(.5,23)(.5,23.5)(.5,24)(.5,24.5)(.5,25)
    (.5,25.5)(.5,26)(.5,26.5)(.5,27)(.5,27.5)(.5,28)(.5,28.5)(.5,29)(.5,29.5)(.5,30)
    (.5,30.5)(.5,31)(.5,31.5)(.5,32)(.5,32.5)(.5,33)(.5,33.5)(.5,34)(.5,34.5)(.5,35)
    (.5,35.5)(.5,36)(.5,36.5)(.5,37)(.5,37.5)(.5,38)(.5,38.5)(.5,39)(.5,39.5)(.5,40)
    (.5,40.5)(.5,41)(.5,41.5)(.5,42)(.5,42.5)(.5,42.9)};
\end{axis}
\end{tikzpicture}
\end{document}
